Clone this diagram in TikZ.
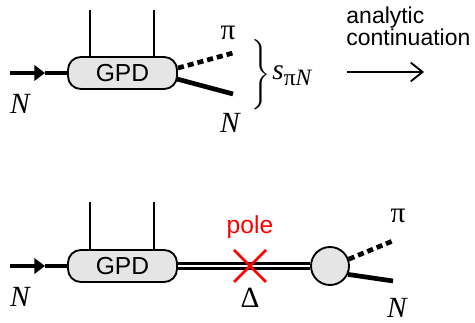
\documentclass[tikz,border=0pt]{standalone}
\usepackage{fontspec}
\setmainfont{Liberation Sans}
\newfontfamily\labfont{Liberation Serif}
\usetikzlibrary{arrows.meta}

\begin{document}
\begin{tikzpicture}[x=0.015cm, y=-0.015cm,
    fermion/.style={line width=2pt},
    inarr/.style={fermion, -{Triangle[length=4.5pt, width=6.5pt]}},
    leg/.style={line width=1pt},
    pion/.style={line width=2pt, dash pattern=on 2.6pt off 1.7pt},
    resonance/.style={draw, line width=1.1pt, double, double distance=1pt},
    gpd/.style={draw, line width=0.8pt, fill=gray!20, rounded corners=5.5pt, minimum width=1.635cm, minimum height=0.48cm, inner sep=0pt, font=\fontsize{10.5}{12}\selectfont},
    vertex/.style={draw, circle, line width=0.8pt, fill=gray!20, minimum size=0.57cm, inner sep=0pt},
    lbl/.style={inner sep=0pt, font=\labfont\fontsize{12.5}{14}\selectfont},
  ]
    \useasboundingbox (0,0) rectangle (475,323);

    % === upper diagram: pi N from GPD ===
    \node[gpd] (gpdA) at (122.5,73) {GPD};
    \coordinate (inA) at (10,73);
    \coordinate (midA) at (45,73);
    \coordinate (tlA) at (90,10);
    \coordinate (trA) at (154,10);
    \coordinate (piA) at (233,53);
    \coordinate (nA) at (233,94);
    \draw[inarr] (inA) -- (midA);
    \draw[fermion] (midA) -- (gpdA.west);
    \draw[leg] (tlA) -- (tlA |- gpdA.north);
    \draw[leg] (trA) -- (trA |- gpdA.north);
    \draw[pion] (gpdA.east) ++(0,-5) coordinate (pioutA) (pioutA) -- (piA);
    \draw[fermion] (gpdA.east) ++(-1,6) coordinate (noutA) (noutA) -- (nA);
    \node[lbl] (labNinA) at (20,104) {\itshape N};
    \node[lbl] (labPiA) at (228,33) {π};
    \node[lbl] (labNoutA) at (230,123) {\itshape N};

    % brace and invariant mass
    \node[inner sep=0pt, font=\large] (brace) at (261,75) {$\Bigg\}$};
    \node[lbl, anchor=west] (sPiN) at (272,76) {\itshape s\raisebox{-0.45ex}{\fontsize{10}{10}\selectfont\upshape π\itshape N}};

    % analytic continuation
    \node[align=left, anchor=north west, inner sep=0pt, font=\fontsize{9.8}{9.5}\selectfont] (contin) at (346,6) {analytic\\continuation};
    \coordinate (acStart) at (347,72);
    \coordinate (acEnd) at (424,72);
    \draw[line width=0.8pt, -{Straight Barb[length=5pt, width=8pt]}] (acStart) -- (acEnd);

    % === lower diagram: Delta pole ===
    \node[gpd] (gpdB) at (122.5,266) {GPD};
    \node[vertex] (blob) at (330,266) {};
    \coordinate (inB) at (10,266);
    \coordinate (midB) at (45,266);
    \coordinate (tlB) at (90,202);
    \coordinate (trB) at (154,202);
    \coordinate (piB) at (395,240);
    \coordinate (nB) at (393,281);
    \draw[inarr] (inB) -- (midB);
    \draw[fermion] (midB) -- (gpdB.west);
    \draw[leg] (tlB) -- (tlB |- gpdB.north);
    \draw[leg] (trB) -- (trB |- gpdB.north);
    \draw[resonance] (gpdB.east) -- (blob.west);
    \draw[pion] (blob.20) -- (piB);
    \draw[fermion] (blob.-25) -- (nB);

    % pole cross
    \coordinate (pole) at (250,266);
    \draw[red, line width=1.2pt] (pole) ++(-16,-16) -- ++(32,32);
    \draw[red, line width=1.2pt] (pole) ++(16,-16) -- ++(-32,32);
    \node[red, inner sep=0pt, font=\fontsize{10.5}{12}\selectfont] (labPole) at (250,227) {pole};
    \node[lbl] (labDelta) at (250,298) {Δ};

    \node[lbl] (labNinB) at (20,297) {\itshape N};
    \node[lbl] (labPiB) at (398,216) {π};
    \node[lbl] (labNoutB) at (397,308) {\itshape N};
\end{tikzpicture}
\end{document}
